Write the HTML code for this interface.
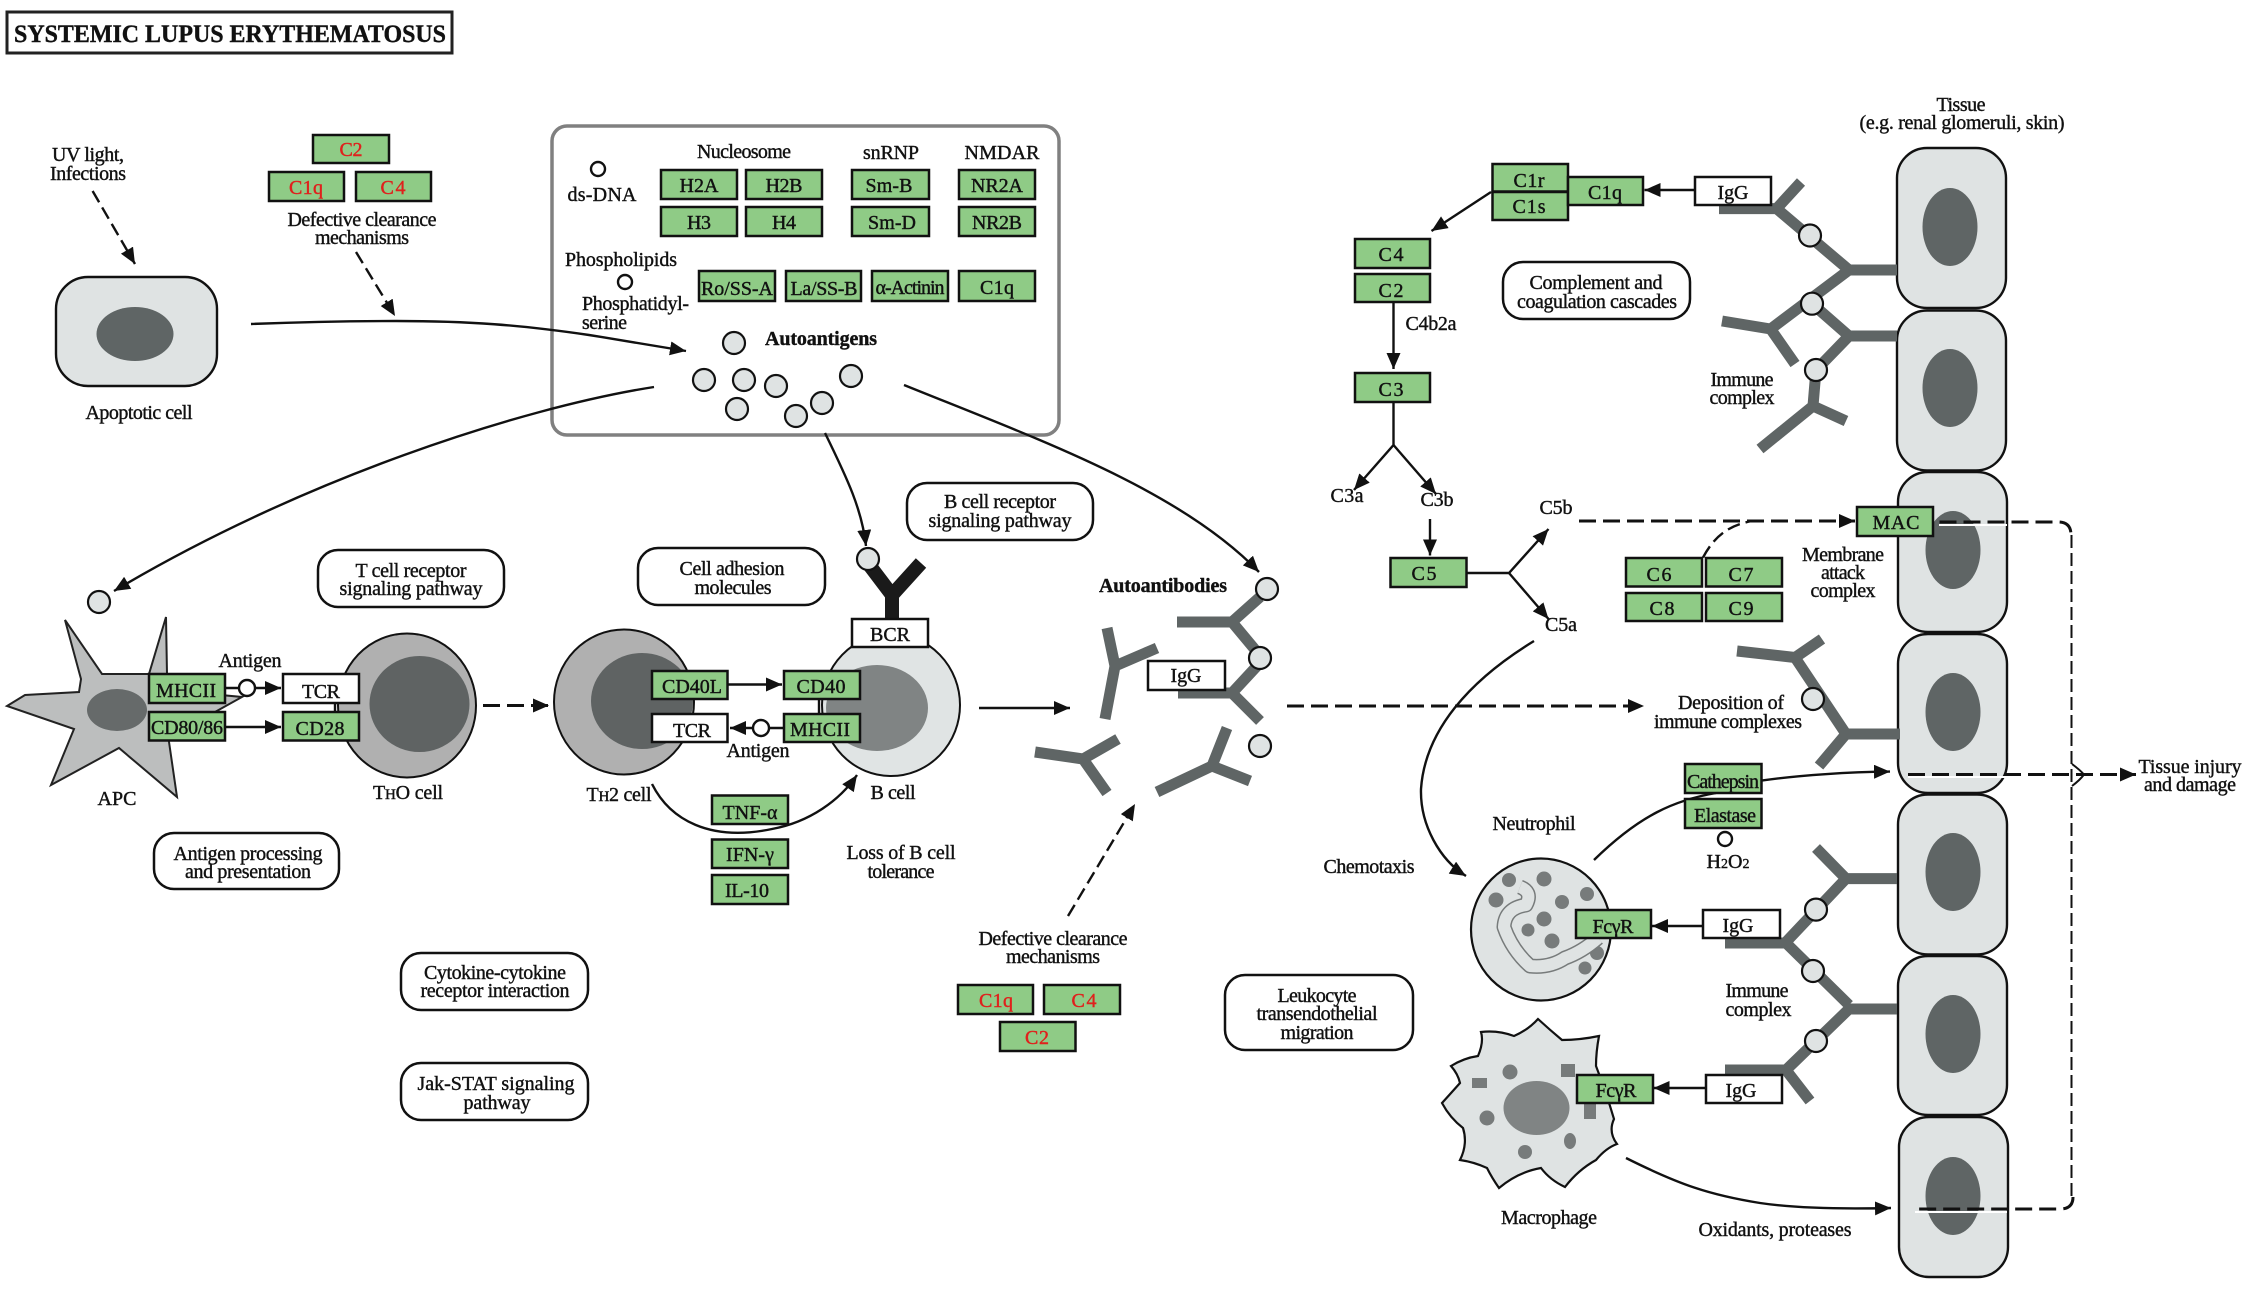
<!DOCTYPE html>
<html><head><meta charset="utf-8"><title>Systemic lupus erythematosus</title>
<style>
html,body{margin:0;padding:0;background:#fff}
svg{display:block}
text{font-family:"Liberation Serif",serif;font-size:20px;fill:#111;text-anchor:middle;stroke:#111;stroke-width:.4}
.s{text-anchor:start}
.r{fill:#e0201c;stroke:#e0201c}
.b{font-weight:bold}
.g rect{fill:#8fcb86;stroke:#111;stroke-width:2.5}
.w rect{fill:#fff;stroke:#111;stroke-width:2.5}
.p rect{fill:#fff;stroke:#111;stroke-width:2.5}
.ab{fill:none;stroke:#5f6565;stroke-width:11}
.c circle{fill:#dfe3e3;stroke:#111;stroke-width:2.2}
.o circle{fill:#fff;stroke:#111;stroke-width:2.4}
.l{fill:none;stroke:#111;stroke-width:2.4}
.d{fill:none;stroke:#111;stroke-width:3;stroke-dasharray:17 7}
.t{fill:none;stroke:#111;stroke-width:2;stroke-dasharray:13 5}
.cell{fill:#dfe3e3;stroke:#111;stroke-width:2.4}
.nu{fill:#5f6565}
.gr{fill:#777b7b}
</style></head><body>
<svg xmlns="http://www.w3.org/2000/svg" width="2246" height="1290" viewBox="0 0 2246 1290">
<defs>
<marker id="a" markerUnits="userSpaceOnUse" markerWidth="17" markerHeight="15" refX="16" refY="7" orient="auto"><path d="M0,0L16,7L0,14Z" fill="#111"/></marker>
</defs>
<rect width="2246" height="1290" fill="#fff"/>

<!-- title -->
<rect x="7" y="12" width="445" height="41" fill="#fff" stroke="#222" stroke-width="3"/>
<text class="s b" x="14" y="42" style="font-size:25px" textLength="432" lengthAdjust="spacingAndGlyphs">SYSTEMIC LUPUS ERYTHEMATOSUS</text>

<!-- autoantigen frame -->
<rect x="552" y="126" width="507" height="309" rx="15" fill="#fff" stroke="#808080" stroke-width="3.5"/>

<!-- tissue cells -->
<rect class="cell" x="1897" y="148" width="109" height="160" rx="30"/>
<rect class="cell" x="1897" y="310.500" width="109" height="160" rx="30"/>
<rect class="cell" x="1898" y="472" width="109" height="160" rx="30"/>
<rect class="cell" x="1898" y="634" width="109" height="159" rx="30"/>
<rect class="cell" x="1898" y="794.500" width="109" height="160" rx="30"/>
<rect class="cell" x="1898" y="956" width="109" height="159" rx="30"/>
<rect class="cell" x="1899" y="1117" width="109" height="160" rx="30"/>
<ellipse class="nu" cx="1950" cy="227" rx="27.500" ry="39"/>
<ellipse class="nu" cx="1950" cy="388" rx="27.500" ry="39"/>
<ellipse class="nu" cx="1953" cy="550" rx="27.500" ry="39"/>
<ellipse class="nu" cx="1953" cy="712" rx="27.500" ry="39"/>
<ellipse class="nu" cx="1953" cy="872" rx="27.500" ry="39"/>
<ellipse class="nu" cx="1953" cy="1034" rx="27.500" ry="39"/>
<ellipse class="nu" cx="1953" cy="1196" rx="27.500" ry="39"/>

<!-- apoptotic cell -->
<rect class="cell" x="56" y="277" width="161" height="109" rx="32"/>
<ellipse class="nu" cx="135" cy="334" rx="38.500" ry="27"/>

<!-- APC -->
<path d="M65,620L102,674L149,674L166,617L167,674L167,690L242,697L215,712L168,735L177,797L119,748L51,785L74,729L7,706L25,695L79,692L81,679Z" fill="#bcbebe" stroke="#222" stroke-width="2"/>
<ellipse cx="117" cy="710" rx="30" ry="21" fill="#666a6a"/>

<!-- T/B cells -->
<ellipse cx="407" cy="705.500" rx="69" ry="72" fill="#b0b0b0" stroke="#111" stroke-width="2"/>
<ellipse cx="419.500" cy="704" rx="50" ry="48" fill="#5f6363"/>
<ellipse cx="624" cy="702" rx="70" ry="72.500" fill="#b0b0b0" stroke="#111" stroke-width="2"/>
<ellipse cx="642" cy="701" rx="51" ry="48" fill="#5f6363"/>
<ellipse cx="891" cy="705" rx="69" ry="71" fill="#e0e4e4" stroke="#111" stroke-width="2"/>
<ellipse cx="877" cy="708" rx="51" ry="43" fill="#808484"/>

<!-- BCR -->
<path d="M892,620V593M870,566L892,595L921,563" fill="none" stroke="#1a1a1a" stroke-width="14"/>

<!-- neutrophil -->
<ellipse cx="1541" cy="929.500" rx="70" ry="71" fill="#dfe3e3" stroke="#111" stroke-width="2.2"/>
<g class="gr">
<circle cx="1509" cy="880" r="7"/><circle cx="1544" cy="879" r="7.500"/><circle cx="1587" cy="894" r="7"/><circle cx="1496" cy="900" r="7.500"/><circle cx="1562" cy="902" r="7"/><circle cx="1544" cy="919" r="7.500"/><circle cx="1528" cy="930" r="6.500"/><circle cx="1552" cy="941" r="7.500"/><circle cx="1597" cy="953" r="7"/><circle cx="1585" cy="968" r="6.500"/>
</g>
<path d="M1520,887Q1533,892 1526,905Q1505,908 1504,927Q1512,950 1530,966Q1550,968 1565,958Q1582,952 1598,938" fill="none" stroke="#777b7b" stroke-width="15" stroke-linejoin="round"/>
<path d="M1520,887Q1533,892 1526,905Q1505,908 1504,927Q1512,950 1530,966Q1550,968 1565,958Q1582,952 1598,938" fill="none" stroke="#dfe3e3" stroke-width="12" stroke-linejoin="round"/>

<!-- macrophage -->
<path d="M1538,1019Q1550,1030 1562,1040Q1580,1040 1599,1036Q1596,1052 1596,1066Q1606,1092 1614,1119Q1608,1132 1617,1144Q1606,1148 1596,1160Q1578,1170 1565,1187Q1550,1180 1541,1168Q1518,1172 1499,1188Q1492,1178 1487,1168Q1474,1162 1460,1160Q1468,1144 1463,1128Q1450,1118 1442,1103Q1452,1092 1460,1083Q1458,1074 1451,1066Q1464,1058 1478,1056Q1484,1042 1481,1032Q1498,1030 1514,1036Q1528,1030 1538,1019Z" fill="#dfe3e3" stroke="#111" stroke-width="2.2"/>
<ellipse cx="1536.500" cy="1108" rx="33" ry="27" fill="#808484"/>
<g class="gr">
<circle cx="1510" cy="1072" r="7.500"/><rect x="1472" y="1078" width="15" height="10"/><rect x="1561" y="1064" width="14" height="13"/><rect x="1584" y="1103" width="12" height="16"/><circle cx="1487" cy="1118" r="7.500"/><ellipse cx="1570" cy="1141" rx="6" ry="8"/><circle cx="1525" cy="1152" r="7"/>
</g>

<!-- antibodies -->
<g class="ab">
<path d="M1897,270H1849L1776.600,208.600M1801,182L1776.600,208.600H1719"/>
<path d="M1849,270L1770.600,329M1722,321L1770.600,329L1795,364"/>
<path d="M1897,336H1849L1813,304.500M1849,336L1816,370L1813,406M1846,421L1813,406L1760,449"/>
<path d="M1900,734H1846L1819,766M1846,734L1795,657.500M1822,639L1795,657.500L1737,651"/>
<path d="M1897,878.600H1846L1816,848M1846,878.600L1786,942M1725,943H1786L1849,1005M1897,1009H1849L1786,1070M1725,1070H1786L1810,1101"/>
<path d="M1260,597L1232,622L1177,622M1232,622L1257,652"/>
<path d="M1257,666L1232,693L1178,693M1232,693L1260,721"/>
<path d="M1107,628L1115,666L1157,648M1115,666L1105,719"/>
<path d="M1035,752L1083,759L1118,739M1083,759L1107,793"/>
<path d="M1227,728L1212,766L1157,792M1212,766L1250,781"/>
</g>

<!-- connectors -->
<g class="l">
<path d="M251,324C300,322 350,321 396,321C470,321 520,325 589,335C620,340 650,345 686,351" marker-end="url(#a)"/>
<path d="M654,387C520,408 300,480 114,591" marker-end="url(#a)"/>
<path d="M904,385C1040,440 1180,490 1259,572" marker-end="url(#a)"/>
<path d="M825,433C848,480 862,510 866,546" marker-end="url(#a)"/>
<path d="M979,708H1070" marker-end="url(#a)"/>
<path d="M652,784C670,820 710,842 772,829C810,822 840,800 857,775" marker-end="url(#a)"/>
<path d="M225,688H281" marker-end="url(#a)"/>
<path d="M225,727H281" marker-end="url(#a)"/>
<path d="M335,703V712"/>
<path d="M727.500,684.500H782" marker-end="url(#a)"/>
<path d="M784,728H730" marker-end="url(#a)"/>
<path d="M819,699V714"/>
<path d="M1695,190H1644.500" marker-end="url(#a)"/>
<path d="M1491,192L1431.500,231" marker-end="url(#a)"/>
<path d="M1393.500,302V369" marker-end="url(#a)"/>
<path d="M1393.500,402V445L1354,490" marker-end="url(#a)"/>
<path d="M1393.500,445L1436,494" marker-end="url(#a)"/>
<path d="M1430,519V555.500" marker-end="url(#a)"/>
<path d="M1466.500,573H1509L1548.500,529" marker-end="url(#a)"/>
<path d="M1509,573L1548.500,619" marker-end="url(#a)"/>
<path d="M1534,641C1470,680 1425,730 1421,789C1420,825 1440,860 1466,876" marker-end="url(#a)"/>
<path d="M1761.500,780.600C1800,775 1850,772 1890,771.600" marker-end="url(#a)"/>
<path d="M1594,860C1640,815 1675,800 1716,793"/>
<path d="M1626,1158C1680,1185 1710,1195 1760,1203C1800,1209 1850,1209 1891,1208" marker-end="url(#a)"/>
<path d="M1703,926H1652" marker-end="url(#a)"/>
<path d="M1706,1088H1653.500" marker-end="url(#a)"/>
</g>

<!-- dashed connectors -->
<g class="d" style="stroke-width:2.400;stroke-dasharray:13 6">
<path d="M92.600,191L135,264" marker-end="url(#a)"/>
<path d="M356,252L395,316" marker-end="url(#a)"/>
<path d="M1068,916L1135,804" marker-end="url(#a)"/>
<path d="M1703,557.500C1715,535 1730,525 1752,521"/>
</g>
<path class="d" d="M1287,706H1644" marker-end="url(#a)"/>
<path class="d" d="M483,705.500H549" marker-end="url(#a)"/>
<path class="d" d="M1579,521H1855" marker-end="url(#a)"/>
<path d="M1939,525H2007M1908,777H2007M1915,1212H2007" fill="none" stroke="#fff" stroke-width="2"/>
<path class="d" d="M1939.500,522H2058Q2071,522 2071,535"/>
<path class="t" d="M2071.500,535V1197"/>
<path class="d" d="M2073,1197Q2073,1209 2060,1209H1915"/>
<path class="d" d="M1908,774.500H2136" marker-end="url(#a)"/>
<path d="M2072,764Q2080,770 2084,774.500Q2080,780 2072,786" fill="none" stroke="#111" stroke-width="2"/>

<!-- small circles -->
<g class="c">
<circle cx="734" cy="343" r="11"/><circle cx="704" cy="380" r="11"/><circle cx="744" cy="380" r="11"/><circle cx="776" cy="386" r="11"/><circle cx="851" cy="376" r="11"/><circle cx="822" cy="403" r="11"/><circle cx="796" cy="416" r="11"/><circle cx="737" cy="409" r="11"/>
<circle cx="99" cy="602" r="11"/><circle cx="868" cy="559" r="11"/>
<circle cx="1267" cy="589" r="11"/><circle cx="1260" cy="658" r="11"/><circle cx="1260" cy="746" r="11"/>
<circle cx="1810" cy="235.500" r="11"/><circle cx="1812" cy="303.700" r="11"/><circle cx="1816" cy="370" r="11"/>
<circle cx="1813" cy="699" r="11"/><circle cx="1816" cy="909.600" r="11"/><circle cx="1813" cy="971" r="11"/><circle cx="1816" cy="1041" r="11"/>
</g>
<g class="o">
<circle cx="598" cy="169" r="7"/><circle cx="625" cy="282" r="7"/><circle cx="1725" cy="839" r="7"/><circle cx="247" cy="688" r="8"/><circle cx="761" cy="728" r="8"/>
</g>

<!-- green boxes -->
<g class="g">
<rect x="313" y="135" width="76" height="28"/><rect x="269" y="172" width="75" height="29"/><rect x="356" y="172" width="75" height="29"/>
<rect x="661" y="170" width="76" height="29"/><rect x="746" y="170" width="76" height="29"/><rect x="661" y="207" width="76" height="29"/><rect x="746" y="207" width="76" height="29"/>
<rect x="852" y="170" width="77" height="29"/><rect x="852" y="207" width="77" height="29"/><rect x="959" y="170" width="76" height="29"/><rect x="959" y="207" width="76" height="29"/>
<rect x="699" y="271" width="76" height="30"/><rect x="786" y="271" width="75" height="30"/><rect x="872" y="271" width="76" height="30"/><rect x="959" y="271" width="76" height="30"/>
<rect x="149" y="674" width="76" height="29"/><rect x="149" y="712" width="76" height="28.500"/><rect x="283" y="712" width="76" height="28.500"/>
<rect x="652" y="671" width="75.500" height="28"/><rect x="784" y="671" width="76" height="28"/><rect x="784" y="714" width="76" height="28"/>
<rect x="712" y="795.500" width="76" height="28.500"/><rect x="712" y="839.500" width="76" height="28.500"/><rect x="712" y="875" width="76" height="29"/>
<rect x="958" y="985" width="75" height="29"/><rect x="1044" y="985" width="76" height="29"/><rect x="1000" y="1022" width="75.500" height="29"/>
<rect x="1492.500" y="164" width="75.500" height="27.500"/><rect x="1492.500" y="192" width="75.500" height="28"/><rect x="1568" y="177" width="75" height="28"/>
<rect x="1355" y="239" width="75" height="29"/><rect x="1355" y="274" width="75" height="28"/><rect x="1355" y="373" width="75" height="29"/>
<rect x="1390.500" y="558" width="76" height="29"/>
<rect x="1857" y="507" width="76" height="29"/>
<rect x="1626" y="558" width="76" height="28.500"/><rect x="1706" y="558" width="76" height="28.500"/><rect x="1626" y="593" width="76" height="28"/><rect x="1706" y="593" width="76" height="28"/>
<rect x="1685" y="764" width="76.500" height="29"/><rect x="1685" y="799" width="76.500" height="29"/>
<rect x="1576" y="910" width="75" height="28"/><rect x="1577" y="1075" width="76" height="28"/>
</g>
<!-- white boxes -->
<g class="w">
<rect x="852" y="619" width="76" height="28"/>
<rect x="283" y="674" width="76" height="29"/>
<rect x="652" y="714" width="75.500" height="28"/>
<rect x="1148" y="661" width="77" height="29"/>
<rect x="1695" y="177" width="76" height="28"/>
<rect x="1703" y="910" width="77" height="28"/>
<rect x="1706" y="1075" width="76" height="28"/>
</g>
<!-- pathway boxes -->
<g class="p">
<rect x="907" y="483" width="186" height="57" rx="20"/>
<rect x="318" y="550" width="186" height="57" rx="20"/>
<rect x="638" y="548" width="187" height="57" rx="20"/>
<rect x="154" y="833" width="185" height="56" rx="20"/>
<rect x="401" y="953" width="187" height="57" rx="20"/>
<rect x="401" y="1063" width="187" height="57" rx="20"/>
<rect x="1503" y="262" width="187" height="57" rx="20"/>
<rect x="1225" y="975" width="188" height="75" rx="20"/>
</g>

<!-- green box labels -->
<text class="r" x="351" y="156" textLength="23">C2</text>
<text class="r" x="306" y="194" textLength="34">C1q</text>
<text class="r" x="393" y="194" textLength="25">C4</text>
<text x="699" y="192" textLength="39">H2A</text>
<text x="784" y="192" textLength="37">H2B</text>
<text x="699" y="229" textLength="24">H3</text>
<text x="784" y="229" textLength="24">H4</text>
<text x="889" y="192" textLength="47">Sm-B</text>
<text x="892" y="229" textLength="48">Sm-D</text>
<text x="997" y="192" textLength="52">NR2A</text>
<text x="997" y="229" textLength="50">NR2B</text>
<text x="737" y="295" textLength="72">Ro/SS-A</text>
<text x="824" y="295" textLength="67">La/SS-B</text>
<text x="910" y="294" textLength="69">α-Actinin</text>
<text x="997" y="294" textLength="34">C1q</text>
<text x="186" y="697" textLength="60">MHCII</text>
<text x="187" y="734" textLength="72">CD80/86</text>
<text x="321" y="698" textLength="38">TCR</text>
<text x="320" y="735" textLength="49">CD28</text>
<text x="692" y="693" textLength="60">CD40L</text>
<text x="821" y="693" textLength="49">CD40</text>
<text x="820" y="736" textLength="60">MHCII</text>
<text x="692" y="737" textLength="38">TCR</text>
<text x="750" y="819" textLength="55">TNF-α</text>
<text x="750" y="861" textLength="48">IFN-γ</text>
<text x="747" y="897" textLength="44">IL-10</text>
<text x="890" y="641" textLength="40">BCR</text>
<text class="r" x="996" y="1007" textLength="34">C1q</text>
<text class="r" x="1084" y="1007" textLength="25">C4</text>
<text class="r" x="1037" y="1044" textLength="24">C2</text>
<text x="1529" y="187" textLength="31">C1r</text>
<text x="1529" y="213" textLength="33">C1s</text>
<text x="1605" y="199" textLength="34">C1q</text>
<text x="1733" y="199" textLength="31">IgG</text>
<text x="1391" y="261" textLength="25">C4</text>
<text x="1391" y="297" textLength="25">C2</text>
<text x="1391" y="396" textLength="25">C3</text>
<text x="1424" y="580" textLength="25">C5</text>
<text x="1896" y="529" textLength="47">MAC</text>
<text x="1659" y="581" textLength="25">C6</text>
<text x="1741" y="581" textLength="25">C7</text>
<text x="1662" y="615" textLength="25">C8</text>
<text x="1741" y="615" textLength="25">C9</text>
<text x="1723" y="788" textLength="72">Cathepsin</text>
<text x="1725" y="822" textLength="62">Elastase</text>
<text x="1613" y="933" textLength="41">FcγR</text>
<text x="1616" y="1097" textLength="41">FcγR</text>
<text x="1738" y="932" textLength="31">IgG</text>
<text x="1741" y="1097" textLength="31">IgG</text>
<text x="1186" y="682" textLength="31">IgG</text>

<!-- labels -->
<text x="88" y="161" textLength="72">UV light,</text>
<text x="88" y="180" textLength="76">Infections</text>
<text x="362" y="226" textLength="149">Defective clearance</text>
<text x="362" y="244" textLength="94">mechanisms</text>
<text x="139" y="419" textLength="107">Apoptotic cell</text>
<text x="602" y="201" textLength="69">ds-DNA</text>
<text x="744" y="158" textLength="94">Nucleosome</text>
<text x="891" y="159" textLength="56">snRNP</text>
<text x="1002" y="159" textLength="75">NMDAR</text>
<text x="621" y="266" textLength="112">Phospholipids</text>
<text class="s" x="582" y="310" textLength="107">Phosphatidyl-</text>
<text class="s" x="582" y="329" textLength="45">serine</text>
<text class="b" x="821" y="345" textLength="112">Autoantigens</text>
<text x="1000" y="508" textLength="112">B cell receptor</text>
<text x="1000" y="527" textLength="143">signaling pathway</text>
<text x="411" y="577" textLength="111">T cell receptor</text>
<text x="411" y="595" textLength="143">signaling pathway</text>
<text x="732" y="575" textLength="105">Cell adhesion</text>
<text x="733" y="594" textLength="77">molecules</text>
<text x="250" y="667" textLength="63">Antigen</text>
<text x="758" y="757" textLength="63">Antigen</text>
<text x="117" y="805" textLength="39">APC</text>
<text x="408" y="799" textLength="70">T<tspan style="font-size:15px">H</tspan>O cell</text>
<text x="619" y="801" textLength="65">T<tspan style="font-size:15px">H</tspan>2 cell</text>
<text x="893" y="799" textLength="45">B cell</text>
<text x="901" y="859" textLength="109">Loss of B cell</text>
<text x="901" y="878" textLength="67">tolerance</text>
<text x="248" y="860" textLength="149">Antigen processing</text>
<text x="248" y="878" textLength="126">and presentation</text>
<text x="495" y="979" textLength="142">Cytokine-cytokine</text>
<text x="495" y="997" textLength="149">receptor interaction</text>
<text x="496" y="1090" textLength="157">Jak-STAT signaling</text>
<text x="497" y="1109" textLength="67">pathway</text>
<text class="b" x="1163" y="592" textLength="128">Autoantibodies</text>
<text x="1053" y="945" textLength="149">Defective clearance</text>
<text x="1053" y="963" textLength="94">mechanisms</text>
<text x="1317" y="1002" textLength="79">Leukocyte</text>
<text x="1317" y="1020" textLength="121">transendothelial</text>
<text x="1317" y="1039" textLength="73">migration</text>
<text x="1369" y="873" textLength="91">Chemotaxis</text>
<text x="1961" y="111" textLength="49">Tissue</text>
<text x="1962" y="129" textLength="205">(e.g. renal glomeruli, skin)</text>
<text x="1596" y="289" textLength="133">Complement and</text>
<text x="1597" y="308" textLength="160">coagulation cascades</text>
<text x="1742" y="386" textLength="63">Immune</text>
<text x="1742" y="404" textLength="65">complex</text>
<text x="1431" y="330" textLength="51">C4b2a</text>
<text x="1347" y="502" textLength="33">C3a</text>
<text x="1437" y="506" textLength="33">C3b</text>
<text x="1556" y="514" textLength="33">C5b</text>
<text x="1561" y="631" textLength="32">C5a</text>
<text x="1843" y="561" textLength="82">Membrane</text>
<text x="1843" y="579" textLength="44">attack</text>
<text x="1843" y="597" textLength="65">complex</text>
<text x="1731" y="709" textLength="106">Deposition of</text>
<text x="1728" y="728" textLength="148">immune complexes</text>
<text x="1534" y="830" textLength="83">Neutrophil</text>
<text x="1728" y="868" textLength="43">H<tspan style="font-size:14px">2</tspan>O<tspan style="font-size:14px">2</tspan></text>
<text x="1757" y="997" textLength="63">Immune</text>
<text x="1758.500" y="1016" textLength="66">complex</text>
<text x="1549" y="1224" textLength="96">Macrophage</text>
<text x="1775" y="1236" textLength="153">Oxidants, proteases</text>
<text x="2190" y="773" textLength="103">Tissue injury</text>
<text x="2190" y="791" textLength="92">and damage</text>
</svg>
</body></html>
